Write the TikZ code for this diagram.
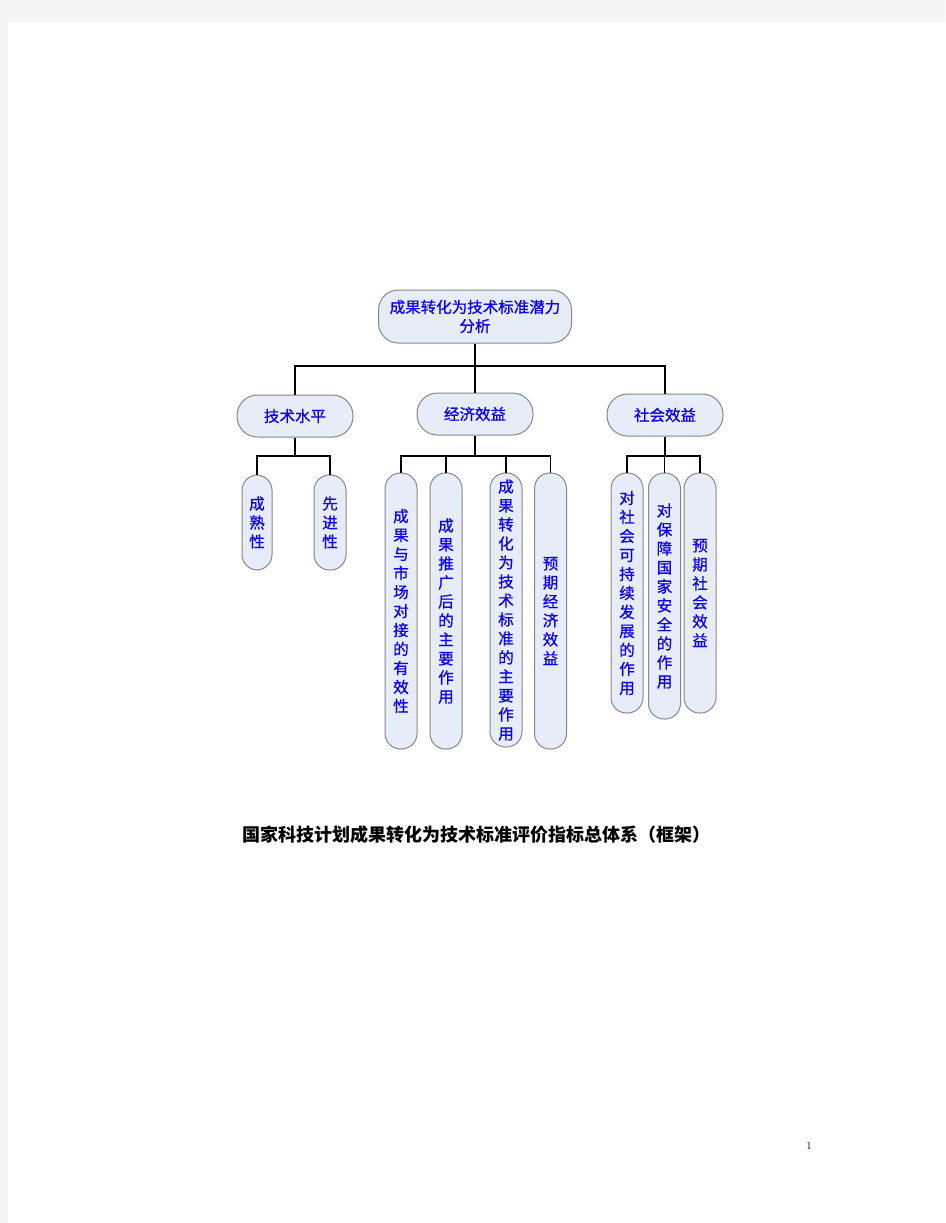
\documentclass[tikz,border=0pt]{standalone}
\usepackage{fontspec}
\newfontfamily\cjk{Noto Sans CJK SC}[FakeBold=0.8]
\newfontfamily\cjkcap{Noto Sans CJK SC}
\definecolor{pagegray}{RGB}{244,244,244}
\definecolor{boxfill}{RGB}{231,237,248}
\definecolor{boxline}{RGB}{135,135,135}
\definecolor{txtblue}{RGB}{10,0,245}
\tikzset{
  box/.style={draw=boxline, line width=1pt, fill=boxfill, text=txtblue,
    font=\cjk\fontsize{15.5}{19}\selectfont, align=center, inner sep=0pt, anchor=center},
  hpill/.style={box, rounded corners=20.5pt, minimum width=116pt, minimum height=42pt},
  vpill/.style={box, rounded corners=15.5pt, minimum width=32pt},
  conn/.style={draw=black, line width=1.7pt}
}
\begin{document}
\begin{tikzpicture}[x=1pt, y=-1pt]
\useasboundingbox (0,0) rectangle (945,1223);
\fill[pagegray] (0,0) rectangle (945,1223);
\fill[white] (8,22) rectangle (945,1223);

% level 1
\node[box, rounded corners=20pt, minimum width=193pt, minimum height=53pt] (top) at (475,316.5) {成果转化为技术标准潜力\\分析};
% level 2
\node[hpill] (tech) at (295,416) {技术水平};
\node[hpill] (econ) at (475,414) {经济效益};
\node[hpill] (soc) at (665,415) {社会效益};
% level 3
\node[vpill, minimum width=30pt, minimum height=95pt] (c1) at (257,522.5) {成\\熟\\性};
\node[vpill, minimum height=95pt] (c2) at (330,522.5) {先\\进\\性};
\node[vpill, minimum height=276pt] (e1) at (401,611) {成\\果\\与\\市\\场\\对\\接\\的\\有\\效\\性};
\node[vpill, minimum height=276pt] (e2) at (446,611) {成\\果\\推\\广\\后\\的\\主\\要\\作\\用};
\node[vpill, minimum height=274pt] (e3) at (506,610) {成\\果\\转\\化\\为\\技\\术\\标\\准\\的\\主\\要\\作\\用};
\node[vpill, minimum height=276pt] (e4) at (550.5,611) {预\\期\\经\\济\\效\\益};
\node[vpill, minimum height=240pt] (s1) at (627,593) {对\\社\\会\\可\\持\\续\\发\\展\\的\\作\\用};
\node[vpill, minimum height=246pt] (s2) at (664.5,596) {对\\保\\障\\国\\家\\安\\全\\的\\作\\用};
\node[vpill, minimum height=240pt] (s3) at (700,593) {预\\期\\社\\会\\效\\益};

\coordinate (bar1) at (0,366);
\coordinate (bar2) at (0,456);

% connectors level 1 -> 2
\draw[conn] (top.south) -- (econ.north);
\draw[conn] (tech.north) -- (tech.north |- bar1) -- (soc.north |- bar1) -- (soc.north);
% tech children
\draw[conn] (tech.south) -- (tech.south |- bar2);
\draw[conn] (c1.north) -- (c1.north |- bar2) -- (c2.north |- bar2) -- (c2.north);
% econ children
\draw[conn] (econ.south) -- (econ.south |- bar2);
\draw[conn] (e1.north) -- (e1.north |- bar2) -- (e4.north |- bar2) -- (e4.north);
\draw[conn] (e2.north |- bar2) -- (e2.north);
\draw[conn] (e3.north |- bar2) -- (e3.north);
% soc children
\draw[conn] (soc.south |- bar2) -- (soc.south);
\draw[conn] (s2.north |- bar2) -- (s2.north);
\draw[conn] (s1.north) -- (s1.north |- bar2) -- (s3.north |- bar2) -- (s3.north);

% caption
\node[font=\cjkcap\bfseries\fontsize{18}{20}\selectfont, text=black, inner sep=0pt] (cap) at (476,835) {国家科技计划成果转化为技术标准评价指标总体系（框架）};
% page number
\node[font=\fontsize{11}{13}\selectfont, inner sep=0pt] (pg) at (809,1146) {1};
\end{tikzpicture}
\end{document}
